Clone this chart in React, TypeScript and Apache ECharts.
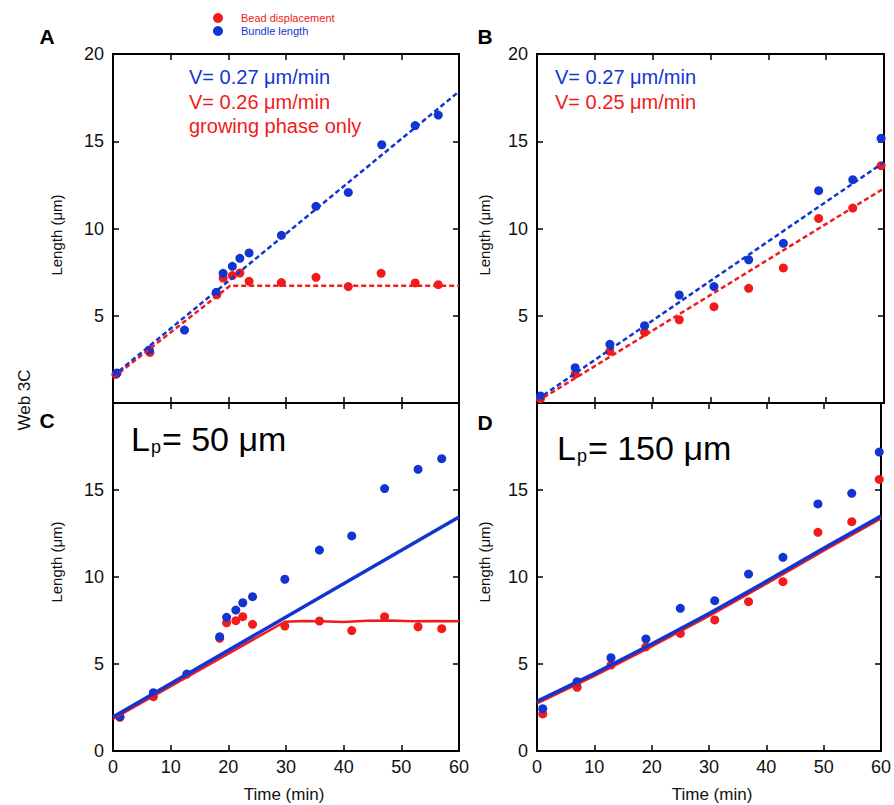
import React, { useEffect, useRef } from "react";
import * as echarts from "echarts";

// ---------- data ----------
const RED = "#f21a1a";
const BLUE = "#1235d2";

// Panel A
const tA_blue = [0.7, 6.3, 12.4, 17.9, 19.1, 20.7, 22.0, 23.6, 29.2, 35.2, 40.8, 46.6, 52.4, 56.4];
const vA_blue = [1.72, 3.04, 4.18, 6.34, 7.43, 7.83, 8.29, 8.6, 9.61, 11.27, 12.07, 14.8, 15.9, 16.5];
const tA_red = [0.5, 6.4, 18.0, 19.1, 20.7, 22.0, 23.6, 29.2, 35.2, 40.8, 46.5, 52.4, 56.4];
const vA_red = [1.64, 2.9, 6.2, 7.16, 7.3, 7.45, 6.97, 6.9, 7.2, 6.67, 7.43, 6.88, 6.78];
const fitA_blue = [[0, 1.55], [60, 17.85]];
const fitA_red = [[0, 1.45], [20.3, 6.72], [60, 6.72]];

// Panel B
const tB = [0.6, 6.6, 12.6, 18.6, 24.6, 30.6, 36.6, 42.6, 48.7, 54.6, 59.5];
const vB_blue = [0.4, 2.02, 3.36, 4.43, 6.19, 6.67, 8.21, 9.15, 12.17, 12.8, 15.17];
const vB_red = [0.25, 1.66, 2.96, 4.05, 4.77, 5.52, 6.57, 7.74, 10.58, 11.17, 13.6];
const fitB_blue = [[0, 0.2], [60, 13.8]];
const fitB_red = [[0, 0.08], [60, 12.3]];

// Panel C
const tC_blue = [1.2, 7.0, 12.8, 18.5, 19.7, 21.3, 22.5, 24.2, 29.8, 35.8, 41.4, 47.1, 52.9, 57.0];
const vC_blue = [1.97, 3.35, 4.42, 6.57, 7.68, 8.1, 8.52, 8.87, 9.87, 11.55, 12.36, 15.08, 16.19, 16.8];
const tC_red = [1.2, 7.0, 18.5, 19.7, 21.3, 22.5, 24.2, 29.8, 35.8, 41.4, 47.1, 52.9, 57.0];
const vC_red = [1.94, 3.12, 6.48, 7.37, 7.49, 7.72, 7.28, 7.18, 7.47, 6.92, 7.72, 7.14, 7.03];
const simC_blue = [[0, 1.95], [60, 13.45]];
const simC_red = [[0, 1.85], [29.8, 7.43], [33, 7.47], [36, 7.45], [40, 7.42], [44, 7.49], [48, 7.5], [52, 7.45], [56, 7.47], [60, 7.45]];

// Panel D
const tD = [1.0, 7.0, 12.9, 19.0, 25.0, 31.0, 36.9, 42.9, 49.0, 54.9, 59.7];
const vD_blue = [2.43, 3.98, 5.36, 6.44, 8.2, 8.64, 10.17, 11.13, 14.2, 14.81, 17.18];
const vD_red = [2.13, 3.66, 4.94, 5.99, 6.76, 7.53, 8.58, 9.73, 12.57, 13.18, 15.61];
const simD_blue = [[0, 2.85], [10, 4.45], [20, 6.15], [30, 7.9], [40, 9.75], [50, 11.65], [60, 13.5]];
const simD_red = [[0, 2.75], [10, 4.33], [20, 6.03], [30, 7.78], [40, 9.63], [50, 11.53], [60, 13.38]];

const xTicks = { min: 0, max: 60, interval: 10 };
const yTicks = { min: 0, max: 20, interval: 5 };

const FONT = '"Liberation Sans", Arial, sans-serif';

const zip = (t: number[], v: number[]) => t.map((x, i) => [x, v[i]]);

export default function App() {
  const ref = useRef<HTMLDivElement>(null);
  useEffect(() => {
    if (!ref.current) return;
    const chart = echarts.init(ref.current, undefined, { renderer: "svg" });

    const grids = [
      { left: 113, top: 54, width: 346, height: 349 },
      { left: 537, top: 54, width: 347, height: 349 },
      { left: 113, top: 403, width: 346, height: 348 },
      { left: 537, top: 403, width: 347, height: 348 },
    ];

    const axisLine = { show: true, onZero: false, lineStyle: { color: "#000", width: 2 } };
    const axisTick = { show: true, inside: true, length: 6, lineStyle: { color: "#000", width: 1.5 } };
    const labelStyle = { color: "#111", fontSize: 18, fontFamily: FONT };

    const xAxes: any[] = [];
    const yAxes: any[] = [];
    grids.forEach((g, i) => {
      const bottomRow = i >= 2;
      xAxes.push({
        type: "value", gridIndex: i, position: "bottom", ...xTicks,
        axisLine, axisTick, splitLine: { show: false },
        axisLabel: { show: bottomRow, margin: 7, ...labelStyle },
      });
      xAxes.push({
        type: "value", gridIndex: i, position: "top", ...xTicks,
        axisLine, axisTick, splitLine: { show: false }, axisLabel: { show: false },
      });
      yAxes.push({
        type: "value", gridIndex: i, position: "left", ...yTicks,
        axisLine, axisTick, splitLine: { show: false },
        axisLabel: {
          margin: 9, ...labelStyle,
          formatter: (v: number) => (bottomRow ? (v === 20 ? "" : String(v)) : v === 0 ? "" : String(v)),
        },
      });
      yAxes.push({
        type: "value", gridIndex: i, position: "right", ...yTicks,
        axisLine, axisTick, splitLine: { show: false }, axisLabel: { show: false },
      });
    });

    const scatter = (name: string, g: number, data: number[][], color: string) => ({
      name, type: "scatter", xAxisIndex: 2 * g, yAxisIndex: 2 * g, data,
      symbolSize: 9, itemStyle: { color, opacity: 1 }, clip: false, z: 3,
    });
    const line = (g: number, data: number[][], color: string, width: number, dashed: boolean, z = 2) => ({
      type: "line", xAxisIndex: 2 * g, yAxisIndex: 2 * g, data, showSymbol: false, symbol: "none",
      lineStyle: { color, width, type: dashed ? [5, 3] : "solid" }, z, silent: true,
    });

    const series: any[] = [
      // A
      scatter("Bead displacement", 0, zip(tA_red, vA_red), RED),
      scatter("Bundle length", 0, zip(tA_blue, vA_blue), BLUE),
      line(0, fitA_red, RED, 2.5, true, 4),
      line(0, fitA_blue, BLUE, 2.5, true, 4),
      // B
      scatter("Bead displacement", 1, zip(tB, vB_red), RED),
      scatter("Bundle length", 1, zip(tB, vB_blue), BLUE),
      line(1, fitB_red, RED, 2.5, true, 4),
      line(1, fitB_blue, BLUE, 2.5, true, 4),
      // C
      scatter("Bead displacement", 2, zip(tC_red, vC_red), RED),
      scatter("Bundle length", 2, zip(tC_blue, vC_blue), BLUE),
      line(2, simC_red, RED, 2.5, false, 4),
      line(2, simC_blue, BLUE, 3.5, false, 4),
      // D
      scatter("Bead displacement", 3, zip(tD, vD_red), RED),
      scatter("Bundle length", 3, zip(tD, vD_blue), BLUE),
      line(3, simD_red, RED, 3, false, 4),
      line(3, simD_blue, BLUE, 3.5, false, 4),
    ];

    const txt = (text: string, x: number, y: number, color: string, size: number, extra: any = {}) => ({
      type: "text", x, y, silent: true,
      style: { text, fill: color, font: `${extra.weight || "normal"} ${size}px ${FONT}`, textAlign: extra.align || "left", textVerticalAlign: "middle" },
      rotation: extra.rotation || 0,
    });

    const lpText = (value: string, x: number, y: number) => ({
      type: "text", x, y, silent: true,
      style: {
        text: `{L|L}{p|p}{r|= ${value} μm}`,
        textVerticalAlign: "middle",
        fill: "#000",
        rich: {
          L: { fontSize: 34, fontFamily: FONT, fill: "#000", lineHeight: 34 },
          p: { fontSize: 18, fontFamily: FONT, fill: "#000", verticalAlign: "bottom", lineHeight: 20, padding: [0, 1, 0, 1] },
          r: { fontSize: 34, fontFamily: FONT, fill: "#000", lineHeight: 34 },
        },
      },
    });

    const graphic: any[] = [
      txt("A", 47, 36, "#000", 21, { weight: "bold", align: "center" }),
      txt("B", 485, 36, "#000", 21, { weight: "bold", align: "center" }),
      txt("C", 47, 420, "#000", 21, { weight: "bold", align: "center" }),
      txt("D", 485, 422, "#000", 21, { weight: "bold", align: "center" }),
      txt("V= 0.27 μm/min", 189, 77, BLUE, 20),
      txt("V= 0.26 μm/min", 189, 102.4, RED, 20),
      txt("growing phase only", 189, 125.8, RED, 20),
      txt("V= 0.27 μm/min", 555, 77, BLUE, 20),
      txt("V= 0.25 μm/min", 555, 102.4, RED, 20),
      lpText("50", 131, 439),
      lpText("150", 557, 447.5),
      txt("Length (μm)", 56, 235, "#111", 15, { align: "center", rotation: Math.PI / 2 }),
      txt("Length (μm)", 484, 235, "#111", 15, { align: "center", rotation: Math.PI / 2 }),
      txt("Length (μm)", 56, 562, "#111", 15, { align: "center", rotation: Math.PI / 2 }),
      txt("Length (μm)", 484, 562, "#111", 15, { align: "center", rotation: Math.PI / 2 }),
      txt("Time (min)", 284, 794, "#111", 17, { align: "center" }),
      txt("Time (min)", 712, 794, "#111", 17, { align: "center" }),
      txt("Web 3C", 24, 400, "#111", 17, { align: "center", rotation: Math.PI / 2 }),
    ];

    chart.setOption({
      animation: false,
      backgroundColor: "#fff",
      legend: {
        orient: "vertical", left: 208, top: 7, itemWidth: 16, itemHeight: 10, itemGap: 1,
        icon: "circle", selectedMode: false,
        data: [
          { name: "Bead displacement", textStyle: { color: RED } },
          { name: "Bundle length", textStyle: { color: BLUE } },
        ],
        textStyle: { fontSize: 11, lineHeight: 12, fontFamily: FONT, padding: [0, 0, 0, 10] },
      },
      grid: grids,
      xAxis: xAxes,
      yAxis: yAxes,
      series,
      graphic,
    });
    return () => chart.dispose();
  }, []);
  return <div ref={ref} style={{ position: "fixed", left: 0, top: 0, width: 894, height: 805 }} />;
}
